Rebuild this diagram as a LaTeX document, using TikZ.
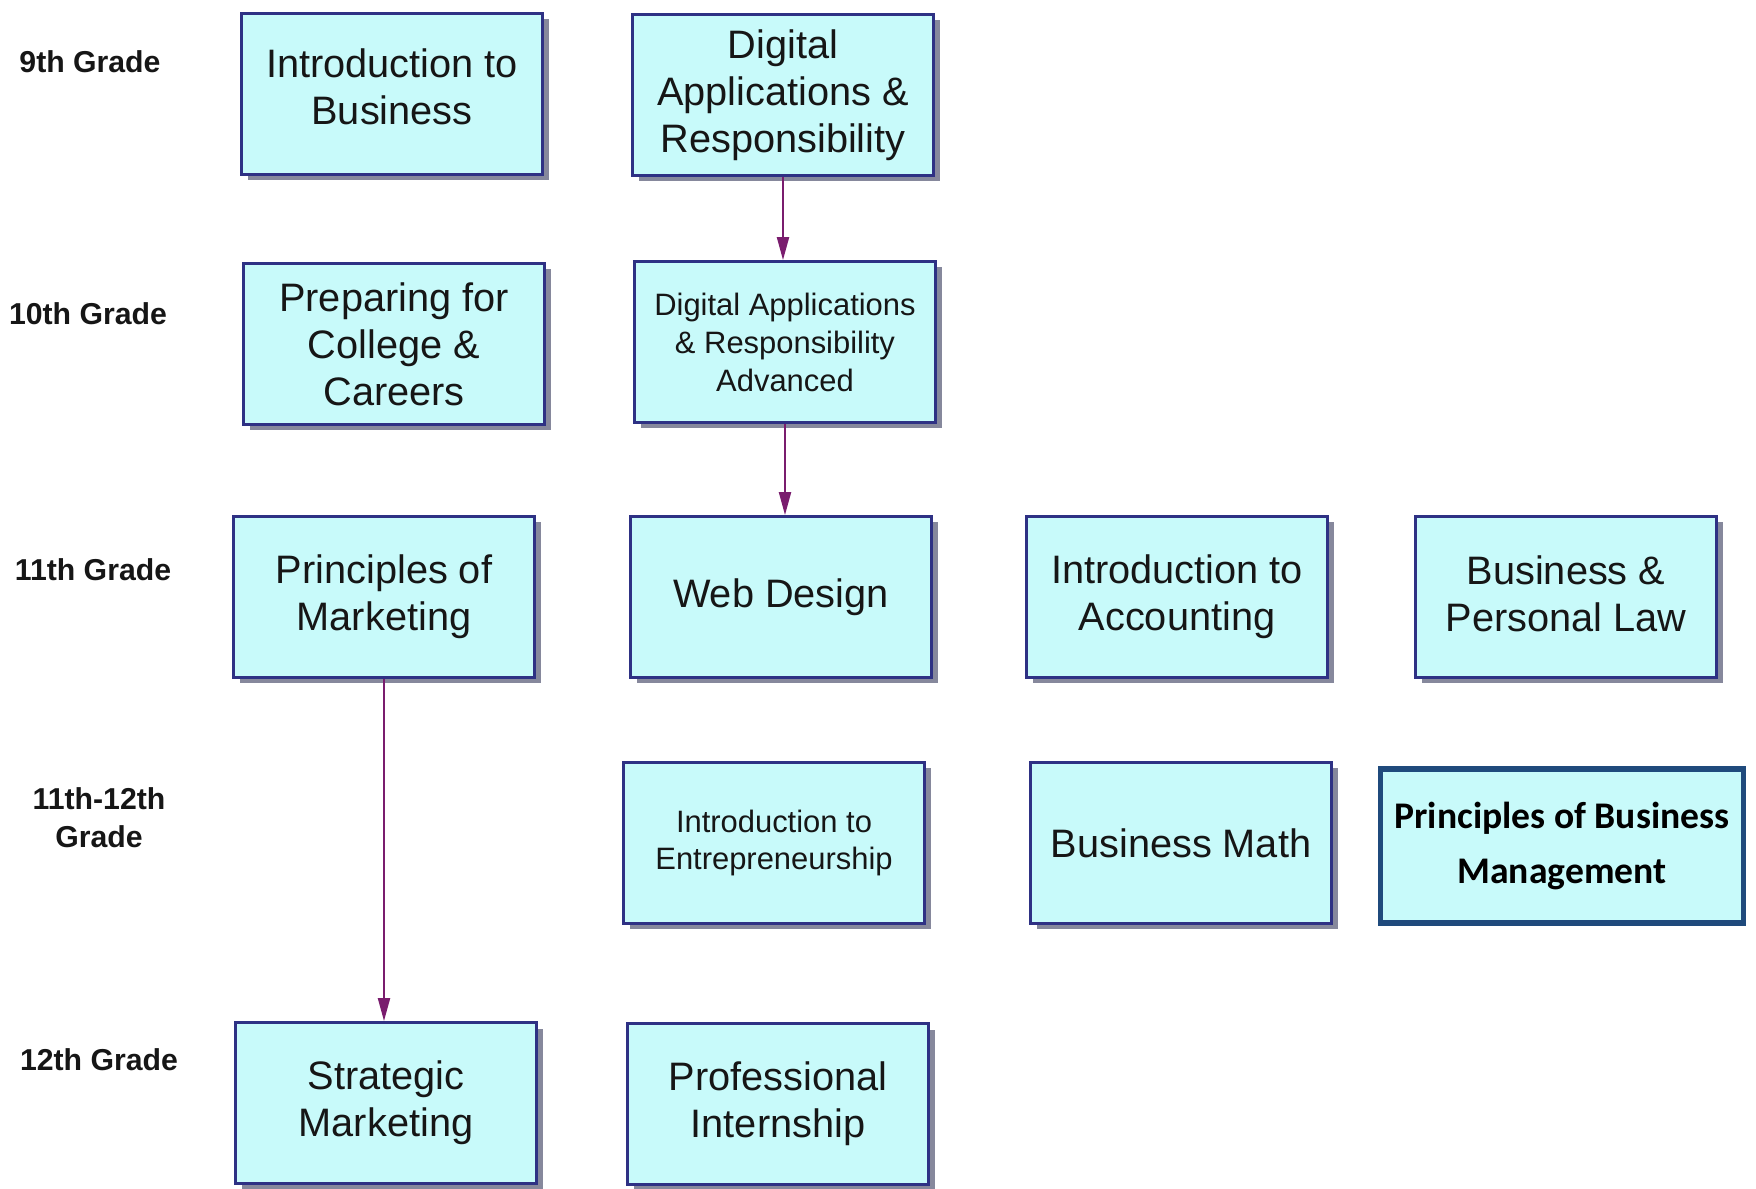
\documentclass[tikz,border=0pt]{standalone}
\usepackage{fontspec}
\setmainfont{Liberation Sans}
\newfontfamily\calibrifont{Carlito}
\usepackage{tikz}
\usetikzlibrary{
    positioning,
    arrows.meta,
    shadows
}
\definecolor{boxfill}{HTML}{C8FAFA}
\definecolor{boxdraw}{HTML}{2E3184}
\definecolor{boxshadow}{HTML}{86889C}
\definecolor{arrowcol}{HTML}{7A1D6E}
\definecolor{mgmtdraw}{HTML}{1F4A7C}
\definecolor{textcol}{HTML}{161616}
\tikzset{
    line/.style = {
        line width = 0.6pt,
        draw = arrowcol,
        -{Triangle[length=2.3mm, width=1.2mm]}
    },
    arrow/.style = {
        line
    },
    % Grade label:
    grade/.style = {
        align = center,
        text = textcol,
        font = \bfseries\fontsize{8.6}{10.8}\selectfont
    },
    % Course box:
    course/.style = {
        rectangle,
        draw = boxdraw,
        line width = 0.8pt,
        fill = boxfill,
        text = textcol,
        align = center,
        minimum width = 30.1mm,
        minimum height = 16.1mm,
        inner sep = 0pt,
        font = \fontsize{11.3}{13.4}\selectfont,
        drop shadow = {shadow xshift=0.6mm, shadow yshift=-0.6mm, fill=boxshadow, opacity=1}
    },
    % Course box, smaller text:
    small course/.style = {
        course,
        font = \fontsize{8.8}{10.8}\selectfont
    },
    % Highlighted course:
    mgmt course/.style = {
        rectangle,
        draw = mgmtdraw,
        line width = 1.6pt,
        fill = boxfill,
        text = black,
        align = center,
        minimum width = 36.3mm,
        minimum height = 15.4mm,
        inner sep = 0pt,
        font = \calibrifont\bfseries\fontsize{10.7}{15.6}\selectfont
    }
}

\begin{document}
\begin{tikzpicture}[x=0.1mm, y=-0.1mm]
    \useasboundingbox (0, 0) rectangle (1756, 1189);
    % Grades:
    \node [grade] (g9) at (90, 62) {9th Grade};
    \node [grade] (g10) at (88, 314) {10th Grade};
    \node [grade] (g11) at (93, 570) {11th Grade};
    \node [grade] (g1112) at (99, 818) {11th-12th\\Grade};
    \node [grade] (g12) at (99, 1060) {12th Grade};
    % 9th grade courses:
    \node [course, text depth=1.4mm] (intbus) at (392, 94) {Introduction to\\Business};
    \node [course] (dar) at (783, 95) {Digital\\Applications \&\\Responsibility};
    % 10th grade courses:
    \node [course] (pcc) at (394, 344) {Preparing for\\College \&\\Careers};
    \node [small course] (dara) at (785, 342) {Digital Applications\\\& Responsibility\\Advanced};
    % 11th grade courses:
    \node [course] (pom) at (384, 597) {Principles of\\Marketing};
    \node [course] (web) at (781, 597) {Web Design};
    \node [course] (acct) at (1177, 597) {Introduction to\\Accounting};
    \node [course, text depth=0.6mm] (law) at (1566, 597) {Business \&\\Personal Law};
    % 11th-12th grade courses:
    \node [small course] (entr) at (774, 843) {Introduction to\\Entrepreneurship};
    \node [course] (math) at (1181, 843) {Business Math};
    \node [mgmt course] (pbm) at (1562, 846) {Principles of Business\\Management};
    % 12th grade courses:
    \node [course] (strat) at (386, 1103) {Strategic\\Marketing};
    \node [course] (intern) at (778, 1104) {Professional\\Internship};
    % Sequences:
    \draw [arrow] (dar.south) -- (dar.south |- dara.north);
    \draw [arrow] (dara.south) -- (dara.south |- web.north);
    \draw [arrow] (pom.south) -- (pom.south |- strat.north);
\end{tikzpicture}
\end{document}
